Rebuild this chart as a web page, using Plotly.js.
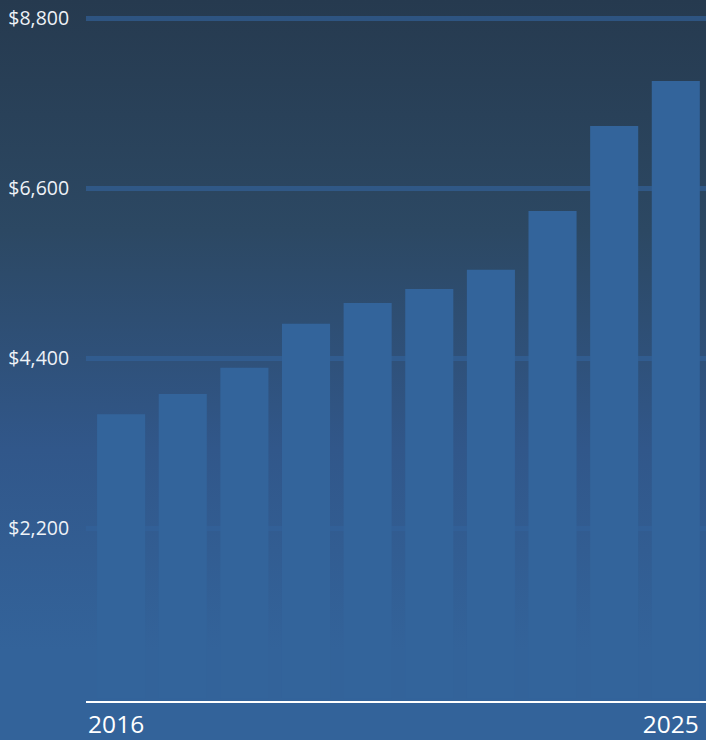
<!DOCTYPE html>
<html>
<head>
<meta charset="utf-8">
<script src="https://cdn.plot.ly/plotly-3.0.1.min.js"></script>
<style>
  html, body { margin: 0; padding: 0; width: 706px; height: 740px; overflow: hidden;
    background: linear-gradient(to bottom, #263a4f 0px, #2c4863 230px, #31578a 450px, #33639a 650px, #33639a 740px); }
  #chart { width: 706px; height: 740px; }
</style>
</head>
<body>
<div id="chart"></div>
<script>
const years = ['2016','2017','2018','2019','2020','2021','2022','2023','2024','2025'];
const values = [3680, 3940, 4280, 4850, 5120, 5300, 5550, 6310, 7410, 7990];
const yTickVals = [2200, 4400, 6600, 8800];
const yTickText = ['$2,200', '$4,400', '$6,600', '$8,800'];
const xTickVals = ['2016', '2025'];
const xTickText = ['2016', '2025'];

const trace = {
  type: 'bar',
  x: years,
  y: values,
  marker: { color: '#33649b', line: { width: 0 } },
  hoverinfo: 'skip'
};

const layout = {
  width: 706, height: 740,
  margin: { l: 86, r: 0, t: 10, b: 39 },
  paper_bgcolor: 'rgba(0,0,0,0)',
  plot_bgcolor: 'rgba(0,0,0,0)',
  showlegend: false,
  bargap: 0.22,
  font: { family: 'Open Sans, sans-serif', color: '#eef2f7' },
  xaxis: {
    type: 'category',
    range: [-0.57, 9.49],
    tickvals: xTickVals,
    ticktext: xTickText,
    tickfont: { size: 24.5, color: '#ffffff' },
    ticks: '',
    ticklabelshift: -5,
    ticklabelstandoff: 1,
    showgrid: false,
    zeroline: false,
    showline: true,
    linecolor: '#ffffff',
    linewidth: 1.5
  },
  yaxis: {
    range: [-32, 8910],
    tickvals: yTickVals,
    ticktext: yTickText,
    tickfont: { size: 19.5, color: '#eef2f7' },
    ticks: 'outside',
    ticklen: 12,
    tickcolor: 'rgba(0,0,0,0)',
    showgrid: true,
    gridcolor: 'rgba(51,99,155,0.65)',
    gridwidth: 4.5,
    zeroline: false,
    showline: false
  }
};

Plotly.newPlot('chart', [trace], layout, { displayModeBar: false, staticPlot: true });
</script>
</body>
</html>
